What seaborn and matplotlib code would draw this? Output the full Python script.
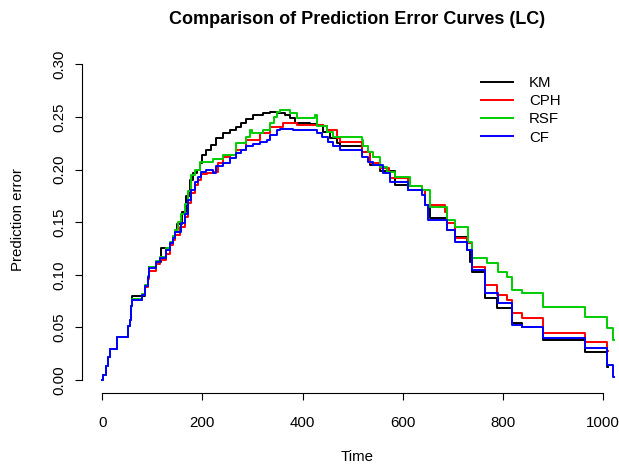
import matplotlib
matplotlib.use('agg')
from matplotlib import pyplot as plt
import numpy as np
import pandas as pd
import seaborn as sns

# values (step curves, steps-post)
km_t = [0, 2, 8, 12, 15, 30, 52, 56, 58, 60, 85, 92, 94, 108, 117, 135, 142, 145, 150,
        160, 168, 175, 182, 190, 195, 200, 208, 218, 228, 242, 255, 268, 278, 288, 301,
        321, 335, 348, 365, 375, 385, 415, 428, 441, 455, 468, 475, 518, 535, 555, 585,
        611, 645, 654, 688, 704, 728, 734, 738, 764, 788, 818, 838, 881, 964, 1008, 1011]
km_v = [0, .005, .013, .022, .029, .041, .051, .057, .070, .080, .089, .098, .107, .112,
        .125, .130, .136, .141, .148, .160, .175, .190, .197, .200, .206, .214, .219,
        .2234, .2297, .2345, .2376, .2408, .244, .2478, .252, .254, .255, .2535, .252,
        .2487, .244, .2433, .2424, .236, .2297, .225, .222, .217, .204, .199, .185, .1806,
        .1664, .1537, .1426, .136, .1236, .1125, .103, .0776, .068, .054, .050, .038,
        .027, .0127, .0127]

cph_t = [0, 2, 8, 12, 15, 30, 52, 56, 58, 60, 79, 85, 92, 94, 108, 115, 128, 135, 142,
         145, 155, 165, 172, 178, 185, 192, 198, 210, 222, 232, 242, 255, 268, 288, 315,
         335, 361, 388, 441, 448, 468, 475, 518, 535, 555, 572, 575, 611, 638, 645, 684,
         688, 704, 728, 738, 764, 788, 808, 818, 838, 881, 964, 1008, 1010]
cph_v = [0, .005, .013, .022, .029, .041, .051, .057, .070, .076, .081, .088, .096, .104,
         .110, .114, .120, .128, .133, .138, .145, .155, .168, .178, .185, .190, .196,
         .1965, .198, .206, .2123, .214, .219, .228, .2345, .2408, .244, .2424, .241,
         .2376, .2297, .2265, .217, .206, .201, .198, .1917, .184, .1806, .1664, .160,
         .149, .1347, .130, .1077, .0903, .0808, .076, .0634, .0586, .0444, .0358, .028,
         .028]

rsf_t = [0, 2, 8, 12, 15, 30, 52, 56, 58, 60, 79, 85, 92, 94, 108, 115, 128, 135, 142,
         145, 152, 158, 165, 172, 178, 185, 195, 208, 222, 242, 268, 288, 295, 300, 321,
         335, 342, 348, 355, 375, 388, 425, 428, 448, 461, 518, 520, 531, 541, 555, 568,
         585, 615, 638, 654, 688, 704, 731, 738, 768, 791, 808, 818, 838, 881, 964, 1008,
         1021, 1023]
rsf_v = [0, .005, .013, .022, .029, .041, .051, .057, .070, .077, .082, .090, .099, .107,
         .113, .117, .125, .131, .137, .143, .150, .158, .167, .180, .195, .200, .2075,
         .2075, .210, .214, .225, .231, .2376, .2345, .2376, .244, .250, .255, .2566,
         .2535, .2487, .252, .241, .236, .231, .228, .222, .217, .2123, .2028, .198, .193,
         .184, .1806, .1647, .152, .1457, .1315, .1157, .111, .103, .098, .0856, .0824,
         .0697, .060, .049, .038, .038]

cf_t = [0, 2, 8, 12, 15, 30, 52, 56, 58, 60, 79, 85, 92, 94, 108, 115, 128, 135, 142,
        145, 158, 165, 172, 178, 185, 192, 198, 208, 222, 228, 242, 255, 268, 278, 288,
        301, 315, 328, 335, 348, 355, 381, 428, 438, 451, 461, 475, 518, 530, 541, 561,
        575, 611, 638, 645, 651, 688, 704, 728, 738, 764, 791, 818, 838, 881, 964, 1008,
        1021, 1023]
cf_v = [0, .005, .013, .022, .029, .041, .051, .057, .070, .076, .081, .089, .098, .106,
        .112, .116, .124, .130, .135, .141, .149, .158, .171, .181, .188, .193, .198,
        .200, .197, .203, .206, .211, .2155, .219, .222, .224, .2265, .228, .233, .2376,
        .239, .2376, .2345, .231, .2265, .222, .2186, .2123, .207, .204, .1965, .1885,
        .1806, .176, .166, .152, .1426, .1315, .1236, .1046, .0824, .073, .0523, .0507,
        .0396, .030, .0143, .003, .003]

models = ['KM', 'CPH', 'RSF', 'CF']
colors = ['black', '#FF0000', '#00CC00', '#0000FF']

frames = []
for name, t, v in [('KM', km_t, km_v), ('CPH', cph_t, cph_v),
                   ('RSF', rsf_t, rsf_v), ('CF', cf_t, cf_v)]:
    frames.append(pd.DataFrame({'time': t, 'err': v, 'model': name}))
df = pd.concat(frames, ignore_index=True)

plt.rcParams['font.family'] = ['Liberation Sans', 'DejaVu Sans']
W, H = 619, 465
fs = 10.8
fig = plt.figure(figsize=(W / 100, H / 100), dpi=100)
ax = fig.add_axes([81.7 / W, 1 - 392.6 / H, (W - 81.7) / W, (392.6 - 51.7) / H])

sns.lineplot(data=df, x='time', y='err', hue='model', hue_order=models,
             palette=colors, estimator=None, sort=False, drawstyle='steps-post',
             linewidth=1.4, ax=ax)

ax.set_xlim(-41.1, 1032)
ax.set_ylim(-0.012, 0.312)
ax.set_xticks(np.arange(0, 1001, 200))
ax.set_yticks(np.arange(0, 0.31, 0.05))
ax.set_yticklabels(['%.2f' % y for y in np.arange(0, 0.31, 0.05)])
ax.spines[['top', 'right']].set_visible(False)
ax.spines['left'].set_bounds(0, 0.3)
ax.spines['bottom'].set_bounds(0, 1000)
for s in ['left', 'bottom']:
    ax.spines[s].set_linewidth(0.8)
ax.tick_params(direction='out', length=5, width=0.8, labelsize=fs, colors='black')
ax.tick_params(axis='x', pad=12)
ax.tick_params(axis='y', pad=6)
plt.setp(ax.get_yticklabels(), rotation=90, va='center')
ax.set_xlabel('')
ax.set_ylabel('')

sns.move_legend(ax, 'upper left', bbox_to_anchor=(481 / W, 1 - 76 / H),
                bbox_transform=fig.transFigure, frameon=False, title=None,
                borderpad=0, borderaxespad=0, handlelength=2.1, handletextpad=1.1,
                labelspacing=0.28, fontsize=fs)

fig.text(357 / W, 1 - 19 / H, 'Comparison of Prediction Error Curves (LC)',
         ha='center', va='center', fontsize=13, fontweight='bold')
fig.text(357 / W, 1 - 457 / H, 'Time', ha='center', va='center', fontsize=fs)
fig.text(18 / W, 1 - 220 / H, 'Prediction error', ha='center', va='center',
         rotation=90, fontsize=fs)

fig.savefig('out.png', dpi=100)
